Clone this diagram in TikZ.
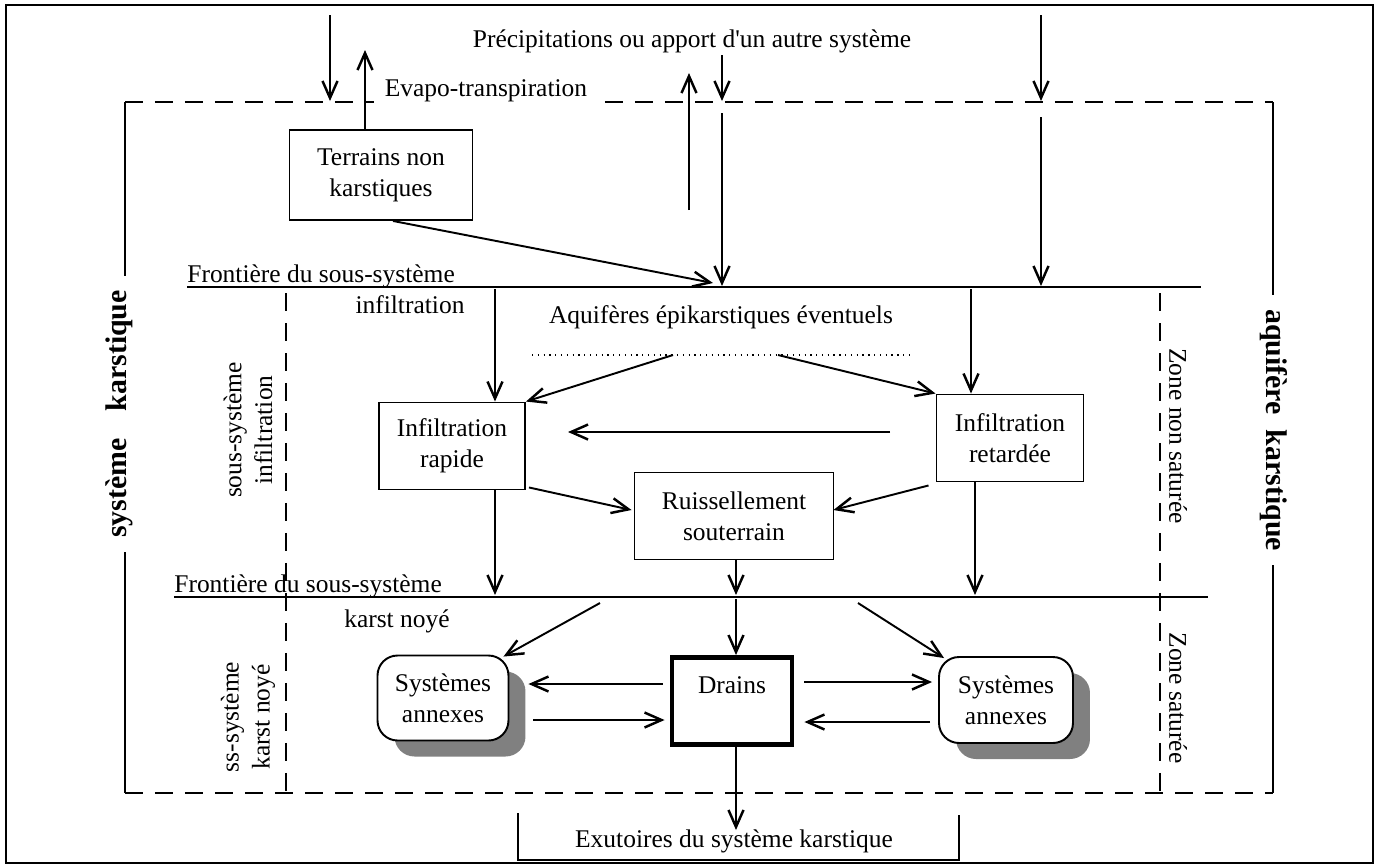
\documentclass[tikz,border=0pt]{standalone}
\usepackage{fontspec}
\setmainfont{Liberation Serif}[Ligatures=TeXOff]
\usetikzlibrary{arrows.meta,shadows}
\begin{document}
\begin{tikzpicture}[x=0.02cm,y=-0.02cm,
  font=\fontsize{14.5}{17.6}\selectfont,
  box/.style={draw, line width=1.1pt, align=center, inner sep=0pt, fill=white},
  sysbox/.style={draw, line width=1.1pt, align=center, inner sep=0pt, fill=white,
     rounded corners=0.4cm,
     drop shadow={shadow xshift=0.34cm, shadow yshift=-0.32cm, fill=black!50, opacity=1}},
  arr/.style={line width=1.1pt, -{Straight Barb[length=0.34cm,width=0.3cm,line width=1.4pt]}},
  frm/.style={line width=0.9pt},
  dsh/.style={line width=0.9pt, dash pattern=on 0.36cm off 0.24cm},
  lbl/.style={inner sep=0pt},
  bigl/.style={font=\fontsize{17}{20}\selectfont\bfseries, fill=white, inner xsep=0.28cm, inner ysep=0pt}]
\useasboundingbox (0,0) rectangle (1377,867);

% outer frame
\draw[frm] (6,5) rectangle (1373,863);

% karst system frame
\coordinate (cTL) at (125,102); \coordinate (cTR) at (1273,102);
\coordinate (cBL) at (125,793); \coordinate (cBR) at (1273,793);
\draw[dsh] (cTL) -- (cTR);
\draw[dsh] (cBL) -- (cBR);
\draw[frm] (cTL) -- (cBL);
\draw[frm] (cTR) -- (cBR);

% inner dashed verticals
\coordinate (zl1) at (286,293); \coordinate (zl2) at (286,797);
\coordinate (zr1) at (1160,293); \coordinate (zr2) at (1160,797);
\draw[dsh] (zl1) -- (zl2);
\draw[dsh] (zr1) -- (zr2);

% frontier lines
\coordinate (f1L) at (187,287); \coordinate (f1R) at (1201,287);
\coordinate (f2L) at (174,597); \coordinate (f2R) at (1208,597);
\draw[line width=1.1pt] (f1L) -- (f1R);
\draw[line width=1.1pt] (f2L) -- (f2R);
\node[lbl, anchor=base west] (f1t) at (187,282) {Frontière du sous-système};
\node[lbl, anchor=base west] (f2t) at (174,592) {Frontière du sous-système};

% big side labels
\node[bigl, rotate=90] (sk) at (119,414) {système\hspace{0.54cm}karstique};
\node[bigl, rotate=-90] (ak) at (1274,430) {aquifère\hspace{0.3cm}karstique};

% side labels
\node[rotate=90, align=center, inner sep=0pt] (ssi) at (248,430) {sous-système\\infiltration};
\node[rotate=90, align=center, inner sep=0pt] (ssk) at (248,717) {ss-système\\karst noyé};
\node[rotate=-90, inner sep=0pt] (zns) at (1178,436) {Zone non saturée};
\node[rotate=-90, inner sep=0pt] (zs) at (1178,698) {Zone saturée};

% text labels
\node[lbl, anchor=base] (prec) at (692,47) {Précipitations ou apport d'un autre système};
\node[anchor=base, fill=white, inner xsep=0.22cm, inner ysep=1pt] (evap) at (486,96) {Evapo-transpiration};
\node[lbl, anchor=base] (infl) at (410,313) {infiltration};
\node[lbl, anchor=base] (aqu) at (721,323) {Aquifères épikarstiques éventuels};
\node[lbl, anchor=base] (kn) at (397,627) {karst noyé};

% boxes
\node[box, minimum width=3.66cm, minimum height=1.8cm] (terr) at (381,175) {Terrains non\\karstiques};
\node[box, minimum width=2.92cm, minimum height=1.74cm] (irap) at (452,446) {Infiltration\\rapide};
\node[box, minimum width=2.94cm, minimum height=1.74cm] (iret) at (1010,438) {Infiltration\\retardée};
\node[box, minimum width=3.98cm, minimum height=1.74cm] (ruis) at (734,516) {Ruissellement\\souterrain};
\node[box, line width=2.8pt, minimum width=2.4cm, minimum height=1.74cm] (drains) at (732,701) {Drains\\\mbox{}};
\node[sysbox, minimum width=2.62cm, minimum height=1.7cm] (lsys) at (443,698) {Systèmes\\annexes};
\node[sysbox, minimum width=2.68cm, minimum height=1.72cm] (rsys) at (1006,700) {Systèmes\\annexes};

% top arrows
\coordinate (p1a) at (330,15); \coordinate (p1b) at (330,101);
\draw[arr] (p1a) -- (p1b);
\coordinate (ev) at (365,50);
\draw[arr] (terr.north -| ev) -- (ev);
\coordinate (u1a) at (689,210); \coordinate (u1b) at (689,73);
\draw[arr] (u1a) -- (u1b);
\coordinate (d2a) at (722,55); \coordinate (d2b) at (722,101);
\coordinate (d2c) at (722,113); \coordinate (d2d) at (722,286);
\draw[arr] (d2a) -- (d2b);
\draw[arr] (d2c) -- (d2d);
\coordinate (d3a) at (1041,15); \coordinate (d3b) at (1041,101);
\coordinate (d3c) at (1041,117); \coordinate (d3d) at (1041,286);
\draw[arr] (d3a) -- (d3b);
\draw[arr] (d3c) -- (d3d);
\coordinate (t2) at (713,283);
\draw[arr] ([xshift=0.24cm]terr.south) -- (t2);

% infiltration sub-system
\coordinate (i1) at (495,289);
\draw[arr] (i1) -- (irap.north -| i1);
\coordinate (i2) at (971,289);
\draw[arr] (i2) -- (iret.north -| i2);
\coordinate (dl) at (532,355); \coordinate (dr) at (912,355);
\draw[line width=0.8pt, dash pattern=on 0.7pt off 2.6pt] (dl) -- (dr);
\coordinate (e1) at (673,355);
\draw[arr] (e1) -- (irap.north east);
\coordinate (e2) at (778,355);
\draw[arr] (e2) -- (iret.north west);
\coordinate (h1) at (890,432); \coordinate (h2) at (568,432);
\draw[arr] (h1) -- (h2);
\draw[arr] ([shift={(3,-3)}]irap.south east) -- ([shift={(-2,-6)}]ruis.west);
\draw[arr] ([shift={(-7,3)}]iret.south west) -- ([shift={(-1,-6)}]ruis.east);
\coordinate (v1) at (495,595);
\draw[arr] (irap.south -| v1) -- (v1);
\coordinate (v2) at (975,595);
\draw[arr] (iret.south -| v2) -- (v2);
\coordinate (v3) at (736,595);
\draw[arr] (ruis.south -| v3) -- (v3);
\coordinate (v4) at (736,599);
\draw[arr] (v4) -- (drains.north -| v4);

% karst noyé sub-system
\coordinate (b1) at (600,603);
\draw[arr] (b1) -- ([shift={(-6,2)}]lsys.north east);
\coordinate (b2) at (858,603);
\draw[arr] (b2) -- ([shift={(6,2)}]rsys.north west);
\draw[arr] ([shift={(-7,-17)}]drains.west) -- ([shift={(19,-14)}]lsys.east);
\draw[arr] ([shift={(24,22)}]lsys.east) -- ([shift={(-5,19)}]drains.west);
\draw[arr] ([shift={(10,-19)}]drains.east) -- ([shift={(-6,-18)}]rsys.west);
\draw[arr] ([shift={(-8,22)}]rsys.west) -- ([shift={(10,21)}]drains.east);
\coordinate (x1) at (736,830);
\draw[arr] (drains.south -| x1) -- (x1);

% outlets
\coordinate (o1) at (518,813); \coordinate (o2) at (518,860);
\coordinate (o3) at (959,860); \coordinate (o4) at (959,815);
\draw[frm] (o1) -- (o2) -- (o3) -- (o4);
\node[lbl, anchor=base] (exu) at (734,847) {Exutoires du système karstique};
\end{tikzpicture}
\end{document}
